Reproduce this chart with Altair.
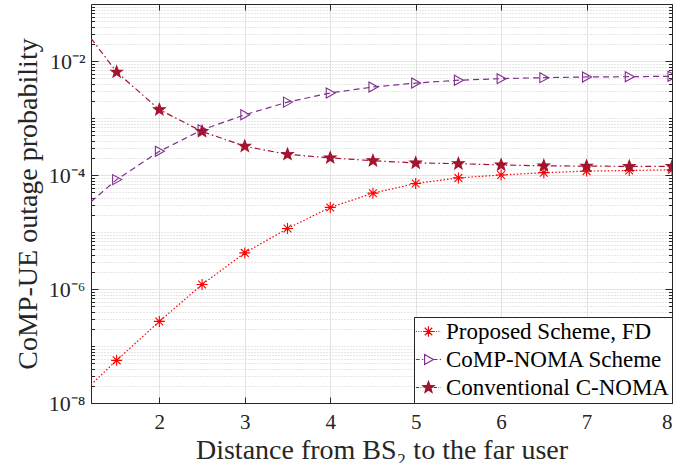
import math
import altair as alt
import pandas as pd

# Outage probability of the CoMP user versus the distance from BS2 to the far user
distance = [1.2, 1.5, 2.0, 2.5, 3.0, 3.5, 4.0, 4.5, 5.0, 5.5, 6.0, 6.5, 7.0, 7.5, 8.0]
proposed_fd = [2.1e-8, 5.6e-8, 2.7e-7, 1.2e-6, 4.3e-6, 1.15e-5, 2.7e-5, 4.8e-5,
               7.1e-5, 8.9e-5, 1.0e-4, 1.1e-4, 1.17e-4, 1.2e-4, 1.23e-4]
comp_noma = [3.4e-5, 8.3e-5, 2.6e-4, 6.2e-4, 1.14e-3, 1.9e-3, 2.75e-3, 3.5e-3,
             4.1e-3, 4.6e-3, 4.9e-3, 5.1e-3, 5.25e-3, 5.3e-3, 5.4e-3]
conventional = [2.5e-2, 6.4e-3, 1.4e-3, 5.8e-4, 3.2e-4, 2.3e-4, 2.0e-4, 1.78e-4,
                1.63e-4, 1.58e-4, 1.5e-4, 1.45e-4, 1.43e-4, 1.42e-4, 1.41e-4]

series_names = ["Proposed Scheme, FD", "CoMP-NOMA Scheme", "Conventional C-NOMA"]
series_values = [proposed_fd, comp_noma, conventional]
series_colors = ["#ff0000", "#7e2f8e", "#a2142f"]
series_dash = [[1.5, 2], [6, 4], [6, 3, 1.5, 3]]
series_fill = ["#ff0000", "transparent", "#a2142f"]

x_ticks = [2, 3, 4, 5, 6, 7, 8]
y_major = [1e-8, 1e-6, 1e-4, 1e-2]
y_minor = [k * 10.0 ** n for n in range(-8, -1) for k in range(1, 10)
           if not (k == 1 and n % 2 == 0)]

FONT = "'Liberation Serif', serif"
INK = "#262626"
W, H = 581, 399

rows = []
for name, vals in zip(series_names, series_values):
    for d, p in zip(distance, vals):
        rows.append({"d": d, "p": p, "series": name})
df = pd.DataFrame(rows)

xs = alt.Scale(domain=[1.2, 8], nice=False, zero=False)
ys = alt.Scale(type="log", domain=[1e-8, 1e-1], nice=False)


# ---- marker shapes (unit coordinates) ----
def star_path(r_out=1.0, r_in=0.42, cx=0.0):
    pts = []
    for i in range(10):
        r = r_out if i % 2 == 0 else r_in
        a = -math.pi / 2 + i * math.pi / 5
        pts.append((cx + r * math.cos(a), r * math.sin(a)))
    return "M" + "L".join(f"{x:.3f},{y:.3f}" for x, y in pts) + "Z"


def asterisk_path(r=1.0, cx=0.0):
    q = r * 0.7071
    return (f"M{cx - r:.3f},0L{cx + r:.3f},0M{cx:.3f},{-r:.3f}L{cx:.3f},{r:.3f}"
            f"M{cx - q:.3f},{-q:.3f}L{cx + q:.3f},{q:.3f}"
            f"M{cx - q:.3f},{q:.3f}L{cx + q:.3f},{-q:.3f}")


def triangle_path(r=1.0, cx=0.0):
    return (f"M{cx - 0.8 * r:.3f},{-r:.3f}L{cx + r:.3f},0"
            f"L{cx - 0.8 * r:.3f},{r:.3f}Z")


def dash_line(x0, x1, pattern):
    out, x, i = [], x0, 0
    while x < x1 - 1e-6:
        seg = pattern[i % len(pattern)]
        if i % 2 == 0:
            out.append(f"M{x:.3f},0H{min(x + seg, x1):.3f}")
        x += seg
        i += 1
    return "".join(out)


marker_paths = [asterisk_path(), triangle_path(), star_path()]
marker_sizes = [121, 100, 150]

legend_dash = [[0.14, 0.2], [0.55, 0.3], [0.45, 0.22, 0.1, 0.22]]
legend_markers = [asterisk_path(0.75), triangle_path(0.7), star_path(0.85, 0.36)]
legend_paths = [
    dash_line(-1.8, -0.75, pat) + mk + dash_line(0.75, 1.8, pat)
    for pat, mk in zip(legend_dash, legend_markers)
]

base = alt.Chart(df)


def X(axis=None):
    return alt.X("d:Q", scale=xs, axis=axis)


def Y(axis=None):
    return alt.Y("p:Q", scale=ys, axis=axis)


ghost = dict(opacity=0)
label_expr = ("'10⁻' + ['⁰','¹','²','³','⁴','⁵','⁶','⁷','⁸','⁹']"
              "[round(-log(datum.value)/LN10)]")

# main axes: labels, titles, major grid
main_axes = base.mark_point(**ghost).encode(
    x=X(alt.Axis(values=x_ticks, title="Distance from BS₂ to the far user",
                 grid=True, ticks=False, format="d", labelPadding=8,
                 titlePadding=4)),
    y=Y(alt.Axis(values=y_major, title="CoMP-UE outage probability",
                 grid=True, ticks=False, labelExpr=label_expr, labelPadding=6,
                 titlePadding=6, labelFontSize=22)),
)

# minor dotted grid on the log axis
minor_grid = base.mark_point(**ghost).encode(
    x=X(None),
    y=Y(alt.Axis(values=y_minor, grid=True, gridDash=[1, 2], gridColor="#cfcfcf",
                 labels=False, ticks=False, domain=False, title=None)),
)

# inward ticks along the bottom and left edges
ticks_bl = base.mark_point(**ghost).encode(
    x=X(alt.Axis(orient="top", offset=-H, values=x_ticks, labels=False,
                 domain=False, grid=False, tickSize=6, title=None)),
    y=Y(alt.Axis(orient="right", offset=-W, values=y_major, labels=False,
                 domain=False, grid=False, tickSize=7, title=None)),
)
# box lines plus inward ticks along the top and right edges
ticks_tr = base.mark_point(**ghost).encode(
    x=X(alt.Axis(orient="bottom", offset=-H, values=x_ticks, labels=False,
                 domain=True, grid=False, tickSize=6, title=None)),
    y=Y(alt.Axis(orient="left", offset=-W, values=y_major, labels=False,
                 domain=True, grid=False, tickSize=7, title=None)),
)
minor_left = base.mark_point(**ghost).encode(
    x=X(None),
    y=Y(alt.Axis(orient="right", offset=-W, values=y_minor, labels=False,
                 domain=False, grid=False, tickSize=3.5, title=None)),
)
minor_right = base.mark_point(**ghost).encode(
    x=X(None),
    y=Y(alt.Axis(orient="left", offset=-W, values=y_minor, labels=False,
                 domain=False, grid=False, tickSize=3.5, title=None)),
)

layers = [main_axes, minor_grid, ticks_bl, ticks_tr, minor_left, minor_right]

for name, color, dash, shape, size, fill in zip(
        series_names, series_colors, series_dash, marker_paths, marker_sizes,
        series_fill):
    sel = base.transform_filter(alt.datum.series == name)
    layers.append(sel.mark_line(color=color, strokeDash=dash, strokeWidth=1.2,
                                clip=True).encode(x=X(), y=Y()))
    layers.append(
        sel.transform_filter(alt.datum.d >= 1.5).mark_point(
            shape=shape, size=size, color=color, fill=fill, filled=False,
            opacity=1, strokeWidth=1.1, clip=True,
        ).encode(x=X(), y=Y())
    )

# legend entries: line style and marker drawn together in each symbol
legend_props = dict(title=None, orient="bottom-right", offset=0,
                    labelFont=FONT, labelFontSize=23, labelColor="#000000")
legend_layer = base.transform_filter("false").mark_point(
    filled=False, opacity=1, size=196
).encode(
    x=X(), y=Y(),
    color=alt.Color("series:N", scale=alt.Scale(domain=series_names, range=series_colors),
                    legend=alt.Legend(**legend_props)),
    fill=alt.Fill("series:N", scale=alt.Scale(domain=series_names, range=series_fill),
                  legend=alt.Legend(**legend_props)),
    shape=alt.Shape("series:N", scale=alt.Scale(domain=series_names, range=legend_paths),
                    legend=alt.Legend(**legend_props)),
)
layers.append(legend_layer)

chart = alt.layer(*layers).resolve_scale(
    x="independent", y="independent"
).properties(
    width=W, height=H,
    autosize=alt.AutoSizeParams(type="none"),
    padding={"left": 91, "top": 4, "right": 4, "bottom": 60},
    background="white",
).configure(font=FONT).configure_view(stroke=None).configure_axis(
    labelFont=FONT, titleFont=FONT, labelFontSize=21, titleFontSize=28,
    labelColor=INK, titleColor=INK, titleFontWeight="normal",
    domainColor=INK, tickColor=INK, domainWidth=1, tickWidth=1,
    gridColor="#e3e3e3", gridWidth=1,
).configure_legend(
    labelFont=FONT, labelFontSize=23, labelColor="#000000", labelLimit=400,
    strokeColor=INK, fillColor="white", padding=3, cornerRadius=0,
    symbolSize=196, symbolStrokeWidth=1.2, symbolOffset=0, labelOffset=6,
    rowPadding=4,
)

chart.save("out.html", embed_options={"renderer": "svg", "actions": False})
